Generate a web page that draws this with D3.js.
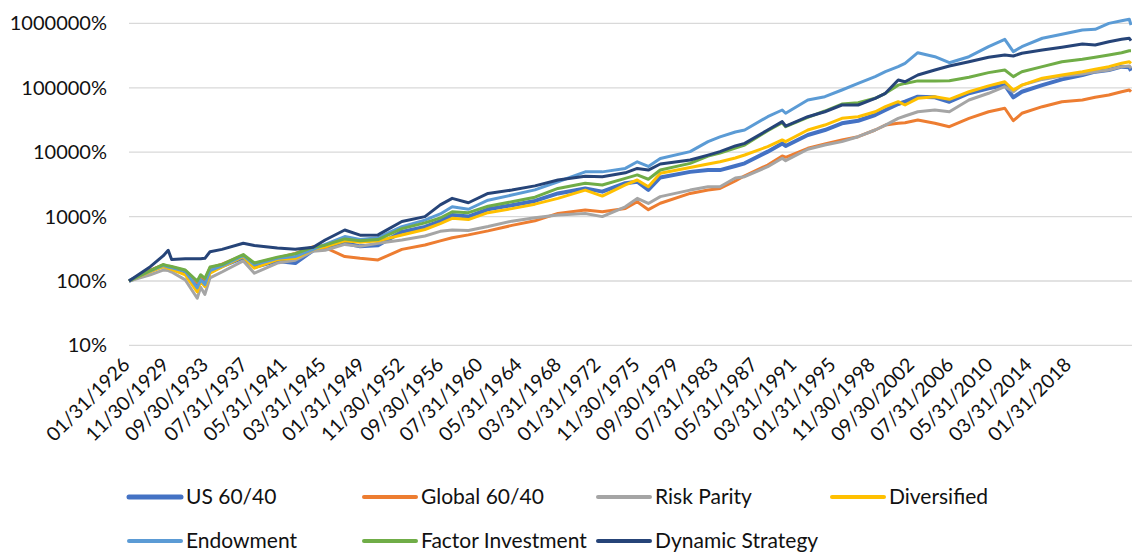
<!DOCTYPE html>
<html>
<head>
<meta charset="utf-8">
<script src="https://cdn.jsdelivr.net/npm/d3@7"></script>
<style>
    body { margin: 0; background: #fff; }
    text { font-family: Lato, "Noto Sans", sans-serif; fill: #111; }
</style>
</head>
<body>
<svg id="growthPlot" width="1132" height="552"></svg>
<script>
// category positions (observation number, monthly, 0 = 01/31/1926)
const obs = [0, 25, 40, 46, 50, 66, 80, 84, 89, 95, 109, 134, 147, 174, 195, 216, 230, 253, 271, 292,
    320, 347, 365, 379, 398, 421, 449, 476, 503, 535, 555, 582, 596, 609, 623, 658, 679, 693, 711, 722,
    749, 766, 770, 796, 816, 836, 855, 875, 887, 902, 910, 925, 945, 962, 985, 1008, 1027, 1037, 1047, 1071,
    1094, 1118, 1133, 1149, 1164, 1173, 1175];
const lastObs = 1175;

// cumulative growth in %
const us6040 = [100, 143, 172, 160, 155, 132, 80, 105, 88, 140, 170, 230, 165, 205, 190, 300, 330, 390, 345, 360,
    580, 690, 850, 1060, 1000, 1300, 1500, 1750, 2290, 2740, 2440, 3300, 3480, 2600, 4050, 4950, 5280, 5280, 6110, 6720,
    10200, 13700, 12500, 18500, 22100, 28100, 30800, 37800, 45200, 56000, 60800, 72800, 71200, 60800, 82200, 98200, 110000, 71200, 86900, 110000,
    135000, 158000, 178000, 189000, 213000, 208000, 184000];
const global6040 = [100, 148, 178, 170, 165, 145, 95, 118, 105, 160, 182, 250, 188, 228, 268, 340, 330, 240, 225, 212,
    310, 362, 420, 470, 520, 600, 730, 860, 1120, 1270, 1190, 1340, 1700, 1280, 1610, 2290, 2580, 2740, 3570, 4300,
    6330, 8730, 8340, 11500, 13400, 15500, 17400, 22100, 26400, 28100, 28700, 31600, 28100, 24900, 33600, 42500, 48100, 30800, 40200, 50900,
    60800, 64600, 71200, 77300, 86900, 92500, 86900];
const riskParity = [100, 125, 148, 145, 138, 104, 54, 80, 62, 112, 138, 205, 132, 190, 210, 290, 300, 370, 345, 385,
    433, 500, 590, 620, 610, 700, 850, 960, 1060, 1120, 1000, 1420, 1920, 1600, 2040, 2580, 2900, 2900, 3980, 4160,
    5950, 8040, 7380, 11100, 12900, 14600, 17400, 22100, 26400, 33600, 36500, 42500, 45200, 42500, 64600, 82200, 104000, 86900, 110000, 135000,
    152000, 164000, 178000, 189000, 213000, 218000, 201000];
const diversified = [100, 140, 168, 158, 152, 124, 68, 100, 82, 132, 165, 238, 158, 215, 225, 310, 340, 420, 400, 420,
    518, 630, 780, 940, 900, 1150, 1330, 1560, 1920, 2580, 2080, 3100, 3700, 2900, 4700, 5800, 6550, 7100, 8130, 9050,
    12200, 15500, 14600, 22100, 26400, 33600, 35600, 42500, 50900, 60800, 54100, 68700, 72800, 66300, 86900, 107000, 124000, 92500, 110000, 141000,
    158000, 178000, 194000, 213000, 240000, 254000, 240000];
const endowment = [100, 143, 175, 165, 160, 141, 78, 105, 88, 145, 172, 248, 178, 225, 240, 310, 370, 490, 440, 470,
    700, 880, 1100, 1420, 1300, 1800, 2160, 2600, 3480, 4950, 4950, 5600, 7100, 6000, 8000, 10200, 14600, 17300, 20600, 22100,
    35600, 45200, 40200, 64600, 72800, 92500, 117000, 149000, 178000, 213000, 240000, 351000, 304000, 245000, 304000, 435000, 566000, 364000, 435000, 588000,
    678000, 790000, 810000, 1000000, 1100000, 1160000, 944000];
const factorInv = [100, 145, 180, 172, 168, 148, 100, 125, 110, 165, 180, 258, 190, 235, 265, 335, 360, 450, 420, 440,
    650, 800, 950, 1190, 1150, 1450, 1700, 2000, 2740, 3300, 3100, 3930, 4440, 3800, 5280, 6700, 8680, 9700, 11600, 12900,
    21600, 28700, 24900, 34800, 43600, 56000, 58700, 68700, 82200, 110000, 117000, 128000, 128000, 129000, 146000, 172000, 189000, 149000, 178000, 213000,
    254000, 277000, 298000, 323000, 351000, 377000, 377000];
const dynamicStrat = [100, 167, 245, 300, 215, 222, 222, 222, 225, 285, 310, 385, 355, 325, 310, 335, 433, 620, 515, 520,
    840, 1000, 1520, 1920, 1640, 2290, 2580, 3000, 3700, 4240, 4160, 4780, 5600, 5280, 6550, 7560, 9000, 10200, 12500, 13700,
    22100, 29800, 25500, 35600, 42500, 54100, 54100, 68700, 82200, 132000, 124000, 158000, 189000, 218000, 254000, 298000, 323000, 312000, 344000, 386000,
    426000, 479000, 462000, 520000, 566000, 588000, 538000];

const seriesNames = ["US 60/40", "Global 60/40", "Risk Parity", "Diversified", "Endowment", "Factor Investment", "Dynamic Strategy"];
const seriesValues = [us6040, global6040, riskParity, diversified, endowment, factorInv, dynamicStrat];
const seriesColors = ["#4472C4", "#ED7D31", "#A5A5A5", "#FFC000", "#5B9BD5", "#70AD47", "#264478"];
const seriesWidths = [4, 3, 3, 3, 3, 3, 3];

const yTicks = [10, 100, 1000, 10000, 100000, 1000000];
const xTickLabels = ["01/31/1926", "11/30/1929", "09/30/1933", "07/31/1937", "05/31/1941", "03/31/1945",
    "01/31/1949", "11/30/1952", "09/30/1956", "07/31/1960", "05/31/1964", "03/31/1968", "01/31/1972",
    "11/30/1975", "09/30/1979", "07/31/1983", "05/31/1987", "03/31/1991", "01/31/1995", "11/30/1998",
    "09/30/2002", "07/31/2006", "05/31/2010", "03/31/2014", "01/31/2018"];
const labelStep = 46;

const svg = d3.select("#growthPlot");
const plot = { left: 129, right: 1131, top: 23.4, bottom: 345.4 };

const x_scale = d3.scaleLinear().domain([0, lastObs]).range([plot.left, plot.right]);
const y_scale = d3.scaleLog().domain([10, 1000000]).range([plot.bottom, plot.top]);

// gridlines
svg.append("g")
    .selectAll("line")
    .data(yTicks)
    .enter()
    .append("line")
    .attr("x1", plot.left)
    .attr("x2", 1132)
    .attr("y1", (d) => y_scale(d))
    .attr("y2", (d) => y_scale(d))
    .attr("stroke", "#d9d9d9")
    .attr("stroke-width", 1.3);

// y axis labels
svg.append("g")
    .selectAll("text")
    .data(yTicks)
    .enter()
    .append("text")
    .attr("x", 107)
    .attr("y", (d) => y_scale(d))
    .attr("dy", "0.35em")
    .attr("text-anchor", "end")
    .attr("font-size", 20)
    .text((d) => d + "%");

// x axis labels, rotated
svg.append("g")
    .selectAll("text")
    .data(xTickLabels)
    .enter()
    .append("text")
    .attr("transform", (d, i) => `translate(${x_scale(i * labelStep) + 2}, 366) rotate(-45)`)
    .attr("text-anchor", "end")
    .attr("font-size", 19.5)
    .text((d) => d);

// lines
const line = d3
    .line()
    .x((d) => x_scale(d.obs))
    .y((d) => y_scale(d.value))
    .curve(d3.curveLinear);

seriesValues.forEach((vals, k) => {
    const pts = vals.map((v, i) => ({ obs: obs[i], value: v }));
    svg.append("path")
        .datum(pts)
        .attr("fill", "none")
        .attr("stroke", seriesColors[k])
        .attr("stroke-width", seriesWidths[k])
        .attr("stroke-linejoin", "round")
        .attr("d", line);
});

// legend
const legendCols = [129, 364, 598, 832];
const legendRows = [497, 541];
const legend = svg.append("g");
seriesNames.forEach((name, k) => {
    const lx = legendCols[k % 4];
    const ly = legendRows[Math.floor(k / 4)];
    legend.append("line")
        .attr("x1", lx).attr("x2", lx + 52)
        .attr("y1", ly).attr("y2", ly)
        .attr("stroke", seriesColors[k])
        .attr("stroke-width", seriesWidths[k] + 1)
        .attr("stroke-linecap", "round");
    legend.append("text")
        .attr("x", lx + 57)
        .attr("y", ly)
        .attr("dy", "0.35em")
        .attr("font-size", 21)
        .text(name);
});
</script>
</body>
</html>
